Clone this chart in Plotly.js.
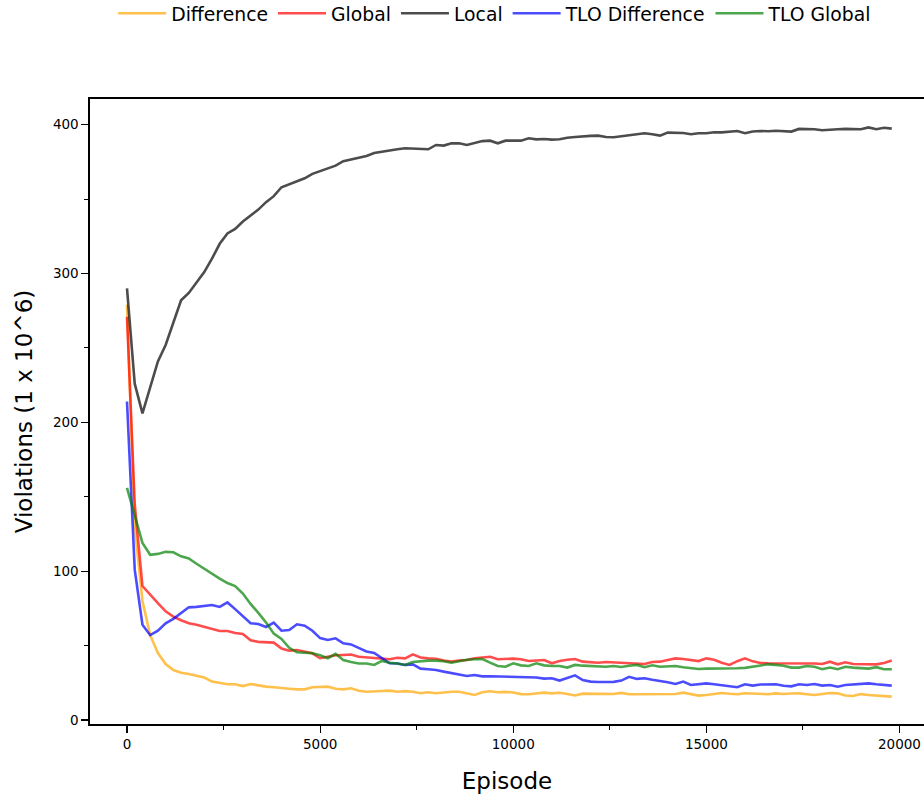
<!DOCTYPE html>
<html>
<head>
<meta charset="utf-8">
<script src="https://cdn.plot.ly/plotly-3.0.1.min.js"></script>
<style>
html,body{margin:0;padding:0;overflow:hidden;background:#fff;}
#chart{width:924px;height:794px;}
</style>
</head>
<body>
<div id="chart"></div>
<script>
const episodes = [0,200,400,600,800,1000,1200,1400,1600,1800,2000,2200,2400,2600,2800,3000,3200,3400,3600,3800,
4000,4200,4400,4600,4800,5000,5200,5400,5600,5800,6000,6200,6400,6600,6800,7000,7200,7400,7600,7800,
8000,8200,8400,8600,8800,9000,9200,9400,9600,9800,10000,10200,10400,10600,10800,11000,11200,11400,11600,11800,
12000,12200,12400,12600,12800,13000,13200,13400,13600,13800,14000,14200,14400,14600,14800,15000,15200,15400,15600,15800,
16000,16200,16400,16600,16800,17000,17200,17400,17600,17800,18000,18200,18400,18600,18800,19000,19200,19400,19600,19800];

const difference = [279,130,80,57,45,37.6,33.6,31.8,30.9,29.6,28.5,25.8,25.1,24,24,22.8,24.2,23.1,22.4,22,
21.3,21,20.6,20.6,22,22.4,22.4,21,20.6,21.3,19.7,19,19,19.5,19.7,19,19.4,19,18,18.6,
18,18.6,19,19,17.9,16.8,18.6,19.3,18.6,18.9,18.5,17.4,17.3,17.6,18.4,17.9,18.3,17.5,16.5,17.7,
17.7,17.4,17.3,17.5,18.2,17.3,17.3,17.3,17.3,17.3,17.4,17.5,18.4,17.2,16.4,16.8,17.3,18.1,17.6,17.3,
18,17.7,17.3,17.3,17.9,17.5,17.8,17.9,17.3,16.8,17.5,18.1,17.9,16.5,16.1,17.4,16.8,16.4,15.8,15.7];

const globalV = [271,145,90,84,78.5,73,69.5,67,65,64,62.7,61,59.8,59.8,58.5,57.8,53.5,52.5,52,52,
48,46.6,47,46,44.8,41.5,42.5,43.5,43.7,44,42.5,42,41.5,41,40.8,41.8,41.4,44.1,42,41.4,
41.2,40,39.2,40,40.3,41.5,42,42.5,40.8,41,41.2,40.8,39.6,40,40.3,38.1,39.6,40.5,41,39.2,
38.6,38.5,39,38.8,38.5,38.3,38.1,37.6,39,39.2,40.3,41.4,41,40.3,39.6,41.4,40.5,38.5,37,39.5,
41.4,39.4,38.3,38.1,38.1,38.1,38.1,38.3,38.5,38,37.6,39.2,37.4,38.8,37.6,37.6,37.6,37.4,38.3,40];

const localV = [290,226,206,224,241,252,267,282,287,294,301,310,320,327,330,335,339,343,348,352,
358,360,362,364,367,369,371,372.5,375.5,376.5,378,379,381,382,382.5,383.5,384.2,384,383.8,383.5,
386.4,386,387.5,387.5,386.4,387.5,389,389.3,387.5,389.3,389.3,389.3,390.9,390.2,390.4,390,390.2,391.3,391.8,392.3,
392.5,392.7,391.8,391.6,392.3,393,393.8,394.3,393.6,392.7,394.7,394.7,394.5,393.6,394.3,394.3,394.9,394.9,395.5,395.8,
394.3,395.5,395.8,395.6,396,395.6,395.4,397.2,397.2,397,396.3,396.8,397,397.2,397.1,397,398.2,397,398,397.4];

const tloDifference = [214,101,64,57,60,65,68,72,75.7,76,76.5,77.3,76,79,74.5,70,65,64.5,62.5,65.4,
60,60.5,64.3,63.4,60,55,53.8,54.9,51.5,50.8,48.5,46,45,41.5,38.1,38,37,37.4,34.5,34.1,
33.6,32.5,31.4,30.5,29.6,30.2,29.3,29.4,29.3,29.1,28.7,29.1,28.5,28.5,27.8,28,26.5,28.5,30,26.8,
25.8,25.5,25.3,25.6,26.5,29,27.6,28,27,26.4,25.3,24.2,25.8,23.5,24,24.6,24,23.4,22.6,22,
24,23.1,23.8,24,24,23,22.6,24,23.5,24.2,23.1,23.5,22.4,23.5,24,24.4,24.6,24,23.5,23.1];

const tloGlobal = [156,137,119,111,111.6,113,112.7,110,108.5,105,101.5,98,95,92,90,85,78,72,65.5,58,
54.5,48.5,45.5,45.2,44.8,43.5,41.5,44.5,40.3,39,38,38,37,39.7,38.5,38,37,39,39.5,39.9,
39.9,39.5,38.5,39.5,40.5,40.8,41,38.5,36.3,35.8,38.1,36.7,36.3,38.1,36.7,36.3,36.3,35.2,37,36.5,
36.3,35.8,35.8,36.3,35.6,36.5,37,35.5,36.8,35.8,36.1,36.3,35.4,34.8,34.3,34.5,34.5,34.3,34.7,34.8,
35,35.8,36.8,37.4,37,36.5,35.2,35.2,36.3,35.8,34.1,35.2,34.1,35.8,35.2,35,34.5,35.5,34.1,34.1];

const seriesNames = ['Difference','Global','Local','TLO Difference','TLO Global'];
const seriesValues = [difference, globalV, localV, tloDifference, tloGlobal];
const seriesColors = ['rgba(255,165,0,0.7)','rgba(255,0,0,0.7)','rgba(0,0,0,0.7)','rgba(0,0,255,0.7)','rgba(0,128,0,0.7)'];

const xTickVals = [0,5000,10000,15000,20000];
const xTickText = ['0','5000','10000','15000','20000'];
const yTickVals = [0,100,200,300,400];
const yTickText = ['0','100','200','300','400'];

const traces = seriesNames.map((name,k)=>({
  type:'scatter', mode:'lines', name:name,
  x:episodes, y:seriesValues[k],
  line:{color:seriesColors[k], width:2.6}
}));

const font = 'DejaVu Sans, sans-serif';
const layout = {
  width:924, height:794,
  margin:{l:90, r:0, t:99, b:70, autoexpand:false},
  paper_bgcolor:'#fff', plot_bgcolor:'#fff',
  font:{family:font, color:'#000'},
  showlegend:true,
  legend:{orientation:'h', xref:'container', yref:'container',
          x:0.1225, xanchor:'left', y:0.983, yanchor:'middle', itemwidth:48,
          font:{family:font, size:18.8, color:'#000'}, bgcolor:'rgba(0,0,0,0)'},
  xaxis:{
    range:[-958, 20635], showgrid:false, zeroline:false,
    showline:true, linecolor:'#000', linewidth:1.6, mirror:true,
    ticks:'outside', ticklen:7, tickwidth:1.2, tickcolor:'#000',
    tickvals:xTickVals, ticktext:xTickText,
    minor:{dtick:2500, tick0:0, ticks:'outside', ticklen:4, tickwidth:1, tickcolor:'#000'},
    tickfont:{family:font, size:13.5, color:'#000'},
    title:{text:'Episode', font:{family:font, size:23, color:'#000'}, standoff:24}
  },
  yaxis:{
    range:[-2.7, 417.3], showgrid:false, zeroline:false,
    showline:true, linecolor:'#000', linewidth:1.6,
    ticks:'outside', ticklen:7, tickwidth:1.2, tickcolor:'#000',
    tickvals:yTickVals, ticktext:yTickText,
    minor:{dtick:50, tick0:0, ticks:'outside', ticklen:4, tickwidth:1, tickcolor:'#000'},
    tickfont:{family:font, size:13.5, color:'#000'},
    title:{text:'Violations (1 x 10^6)', font:{family:font, size:23, color:'#000'}, standoff:14}
  }
};

Plotly.newPlot('chart', traces, layout, {displayModeBar:false, staticPlot:true});
</script>
</body>
</html>
